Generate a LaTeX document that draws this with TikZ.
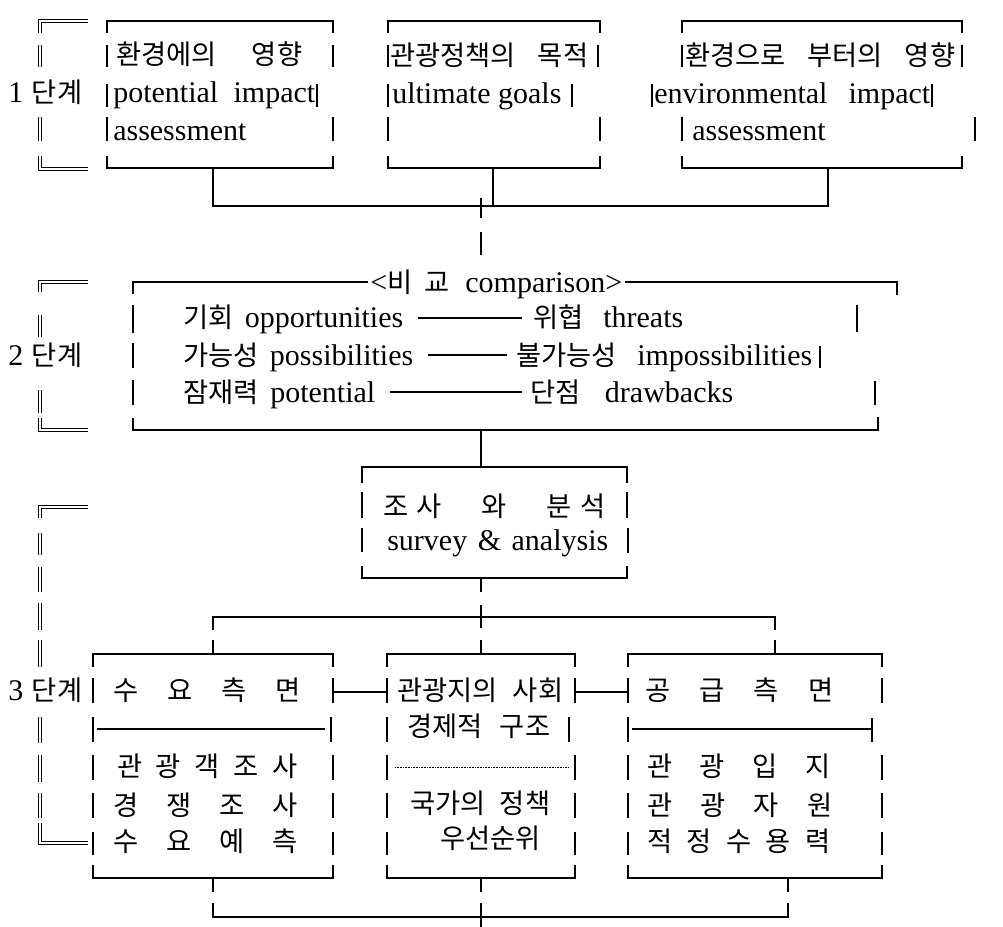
\documentclass[tikz,border=0pt]{standalone}
\usepackage{fontspec}
\setmainfont{Liberation Serif}
\newfontfamily\krfont{Noto Sans CJK KR}
\newlength\pxu
\setlength\pxu{0.75pt}
\newcommand\K[1]{{\krfont\fontsize{20.5}{24}\selectfont #1}}
\newcommand\spr[2]{\makebox[#1\pxu][s]{#2}}
\begin{document}
\begin{tikzpicture}[x=0.75pt,y=-0.75pt,
  ln/.style={line width=1.5pt},
  thinln/.style={line width=0.8pt},
  dotln/.style={line width=0.5pt, dash pattern=on 0.6pt off 0.6pt},
  dbl/.style={double, double distance=1.5pt, line width=0.75pt},
  txt/.style={anchor=base west, inner sep=0pt, font=\fontsize{22.5}{26}\selectfont}]
\useasboundingbox (0,0) rectangle (1003,927);

% ---------------- Stage 1 ----------------
\draw[dbl] (88,21) -- (40,21) -- (40,33);
\draw[dbl] (40,45) -- (40,67);
\draw[dbl] (40,117) -- (40,141);
\draw[dbl] (40,156) -- (40,169) -- (88,169);

% box 1
\draw[ln] (107,33) -- (107,21) -- (333,21) -- (333,33);
\draw[ln] (107,156) -- (107,168) -- (333,168) -- (333,156);
\foreach \a/\b in {45/67,84/107,117/141} \draw[ln] (107,\a) -- (107,\b);
\draw[ln] (333,45) -- (333,67);
\draw[ln] (317,84) -- (317,107);
\draw[ln] (333,117) -- (333,141);
% box 2
\draw[ln] (388,33) -- (388,21) -- (600,21) -- (600,33);
\draw[ln] (388,156) -- (388,168) -- (600,168) -- (600,156);
\foreach \a/\b in {45/67,84/107,117/141} \draw[ln] (388,\a) -- (388,\b);
\draw[ln] (598,45) -- (598,67);
\draw[ln] (572,84) -- (572,107);
\draw[ln] (600,117) -- (600,141);
% box 3
\draw[ln] (682,33) -- (682,21) -- (962,21) -- (962,33);
\draw[ln] (682,156) -- (682,168) -- (962,168) -- (962,156);
\draw[ln] (682,45) -- (682,67);
\draw[ln] (652,84) -- (652,107);
\draw[ln] (682,117) -- (682,141);
\draw[ln] (962,45) -- (962,67);
\draw[ln] (932,84) -- (932,107);
\draw[ln] (975,117) -- (975,141);

\node[txt] (s1) at (8,103) {\spr{74}{1\hfill\K{단계}}};
\node[txt] (a1) at (116,65) {\spr{186}{\K{환경에의\hfill 영향}}};
\node[txt] (a2) at (113,103) {\spr{202}{potential impact}};
\node[txt] (a3) at (113,141) {assessment};
\node[txt] (b1) at (390,66) {\spr{198}{\K{관광정책의\hfill 목적}}};
\node[txt] (b2) at (392,104) {ultimate goals};
\node[txt] (c1) at (685,66) {\spr{270}{\K{환경으로\hfill 부터의\hfill 영향}}};
\node[txt] (c2) at (654,104) {\spr{276}{environmental impact}};
\node[txt] (c3) at (692,141) {assessment};

% connectors stage 1 -> 2
\draw[ln] (213,168) -- (213,206) -- (828,206) -- (828,168);
\draw[ln] (493,168) -- (493,206);
\draw[ln] (481,198) -- (481,218);
\draw[ln] (481,232) -- (481,255);

% ---------------- Stage 2 ----------------
\draw[dbl] (88,282) -- (40,282) -- (40,292);
\draw[dbl] (40,315) -- (40,337);
\draw[dbl] (40,390) -- (40,413);
\draw[dbl] (40,418) -- (40,430) -- (88,430);

\draw[ln] (133,294) -- (133,282) -- (368,282);
\draw[ln] (625,282) -- (897,282) -- (897,295);
\foreach \a/\b in {305/333,343/368,380/405} \draw[ln] (133,\a) -- (133,\b);
\draw[ln] (133,418) -- (133,430) -- (878,430) -- (878,417);
\draw[ln] (857,305) -- (857,332);
\draw[ln] (820,346) -- (820,368);
\draw[ln] (875,381) -- (875,405);
\draw[ln] (418,318) -- (522,318);
\draw[ln] (428,355) -- (507,355);
\draw[ln] (390,392) -- (522,392);

\node[txt] (s2) at (8,365) {\spr{74}{2\hfill\K{단계}}};
\node[txt] (cmp) at (370,292) {\spr{252}{<\K{비 교} comparison>}};
\node[txt] (o1) at (183,328) {\spr{220}{\K{기회} opportunities}};
\node[txt] (o2) at (533,328) {\spr{150}{\K{위협} threats}};
\node[txt] (p1) at (183,365) {\spr{230}{\K{가능성} possibilities}};
\node[txt] (p2) at (516,365) {\spr{296}{\K{불가능성} impossibilities}};
\node[txt] (q1) at (183,402) {\spr{192}{\K{잠재력} potential}};
\node[txt] (q2) at (530,402) {\spr{203}{\K{단점} drawbacks}};

\draw[ln] (481,430) -- (481,467);

% ---------------- Survey ----------------
\draw[ln] (362,483) -- (362,467) -- (627,467) -- (627,483);
\draw[ln] (362,492) -- (362,518);
\draw[ln] (362,528) -- (362,552);
\draw[ln] (627,492) -- (627,518);
\draw[ln] (628,528) -- (628,553);
\draw[ln] (362,566) -- (362,578) -- (627,578) -- (627,566);
\node[txt] (sv1) at (383,516) {\spr{222}{\K{조\hspace{6pt}사\hfill 와\hfill 분\hspace{6pt}석}}};
\node[txt] (sv2) at (387,550) {\spr{221}{survey \& analysis}};

\draw[ln] (481,578) -- (481,592);
\draw[ln] (481,605) -- (481,628);
\draw[ln] (481,640) -- (481,654);
\draw[ln] (213,630) -- (213,617) -- (775,617) -- (775,630);
\draw[ln] (213,640) -- (213,654);
\draw[ln] (775,640) -- (775,654);

% ---------------- Stage 3 ----------------
\draw[dbl] (88,507) -- (40,507) -- (40,518);
\foreach \a/\b in {533/555,567/592,603/630,640/667,717/743,755/782,793/818}
  \draw[dbl] (40,\a) -- (40,\b);
\draw[dbl] (40,823) -- (40,843) -- (88,843);

% box L
\draw[ln] (93,667) -- (93,654) -- (333,654) -- (333,667);
\draw[ln] (93,865) -- (93,878) -- (333,878) -- (333,865);
\foreach \a/\b in {678/703,717/742,755/780,793/818,832/855} \draw[ln] (93,\a) -- (93,\b);
\foreach \a/\b in {678/703,755/780,793/818,832/855} \draw[ln] (333,\a) -- (333,\b);
\draw[ln] (331,717) -- (331,742);
\draw[thinln] (97,729) -- (317,729);
\draw[ln] (317,729) -- (325,729);
% box M
\draw[ln] (387,667) -- (387,654) -- (575,654) -- (575,667);
\draw[ln] (387,865) -- (387,878) -- (575,878) -- (575,865);
\foreach \a/\b in {678/703,717/742,755/780,793/818,832/855} \draw[ln] (387,\a) -- (387,\b);
\foreach \a/\b in {678/703,755/780,793/818,832/855} \draw[ln] (575,\a) -- (575,\b);
\draw[ln] (569,717) -- (569,742);
\draw[dotln] (395,767) -- (568,767);
% box R
\draw[ln] (628,667) -- (628,654) -- (882,654) -- (882,667);
\draw[ln] (628,865) -- (628,878) -- (882,878) -- (882,865);
\foreach \a/\b in {678/703,717/742,755/780,793/818,832/855} \draw[ln] (628,\a) -- (628,\b);
\foreach \a/\b in {678/703,755/780,793/818,832/855} \draw[ln] (882,\a) -- (882,\b);
\draw[ln] (872,718) -- (872,742);
\draw[thinln] (632,729) -- (872,729);
% links between boxes
\draw[ln] (333,692) -- (387,692);
\draw[ln] (575,692) -- (628,692);

\node[txt] (s3) at (8,700) {\spr{74}{3\hfill\K{단계}}};
\node[txt] (l1) at (113,700) {\spr{187}{\K{수\hfill 요\hfill 측\hfill 면}}};
\node[txt] (l3) at (117,776) {\spr{180}{\K{관\hfill 광\hfill 객\hfill 조\hfill 사}}};
\node[txt] (l4) at (113,815) {\spr{184}{\K{경\hfill 쟁\hfill 조\hfill 사}}};
\node[txt] (l5) at (113,851) {\spr{184}{\K{수\hfill 요\hfill 예\hfill 측}}};
\node[txt] (m1) at (397,700) {\spr{166}{\K{관광지의\hfill 사회}}};
\node[txt] (m2) at (407,736) {\spr{143}{\K{경제적\hfill 구조}}};
\node[txt] (m4) at (410,813) {\spr{140}{\K{국가의\hfill 정책}}};
\node[txt] (m5) at (440,848) {\K{우선순위}};
\node[txt] (r1) at (645,700) {\spr{188}{\K{공\hfill 급\hfill 측\hfill 면}}};
\node[txt] (r3) at (647,776) {\spr{183}{\K{관\hfill 광\hfill 입\hfill 지}}};
\node[txt] (r4) at (647,815) {\spr{185}{\K{관\hfill 광\hfill 자\hfill 원}}};
\node[txt] (r5) at (647,851) {\spr{183}{\K{적\hfill 정\hfill 수\hfill 용\hfill 력}}};

% bottom connectors
\draw[ln] (213,878) -- (213,892);
\draw[ln] (788,878) -- (788,892);
\draw[ln] (481,878) -- (481,892);
\draw[ln] (213,903) -- (213,917) -- (788,917) -- (788,903);
\draw[ln] (481,903) -- (481,927);
\end{tikzpicture}
\end{document}
